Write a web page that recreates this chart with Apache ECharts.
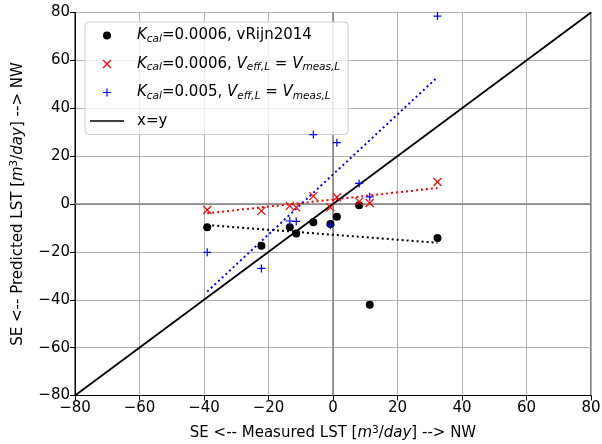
<!DOCTYPE html>
<html><head><meta charset="utf-8">
<script src="https://cdn.jsdelivr.net/npm/echarts@6/dist/echarts.min.js"></script>
<style>html,body{margin:0;padding:0;background:#fff}#c{width:602px;height:444px}</style>
</head><body><div id="c"></div>
<script>
// ---- data ----
const measured      = [-39.0, -22.2, -13.4, -11.4, -6.1, -0.8, 1.2, 8.1, 11.4, 32.4];
const predVRijn     = [-9.7, -17.4, -9.7, -12.3, -7.6, -8.4, -5.3, -0.5, -42.1, -14.2];
const predVeffK0006 = [-2.5, -2.9, -0.8, -1.4, 3.3, -1.4, 2.8, 1.0, 0.4, 9.2];
const predVeffK005  = [-20.2, -26.9, -7.1, -7.3, 29.0, -8.8, 25.6, 8.6, 3.0, 78.5];
const fitX          = [-39.0, 32.4];
const fitVRijn      = [-8.8, -16.2];
const fitVeffK0006  = [-3.9, 6.7];
const fitVeffK005   = [-36.6, 53.0];
const identityX     = [-80, 80];
const axisMin = -80, axisMax = 80, axisStep = 20;

const names = ['Kcal=0.0006, vRijn2014', 'Kcal=0.0006, Veff,L = Vmeas,L', 'Kcal=0.005, Veff,L = Vmeas,L', 'x=y'];
const legendRich = {
  1: '{gap| }{i|K}{sub|cal}{n|=0.0006, vRijn2014}',
  2: '{gap| }{i|K}{sub|cal}{n|=0.0006, }{i|V}{sub|eff,L}{n| = }{i|V}{sub|meas,L}',
  3: '{gap| }{i|K}{sub|cal}{n|=0.005, }{i|V}{sub|eff,L}{n| = }{i|V}{sub|meas,L}',
  4: '{gap| }{n|x=y}'
};
const zip = (a, b) => a.map((v, i) => [v, b[i]]);
const FF = 'DejaVu Sans';
const FS = 15;
const base = {fontFamily: FF, fontSize: FS, color: '#000'};
const rich = {
  gap: Object.assign({}, base, {width: 8, lineHeight: 18}),
  n: Object.assign({}, base, {lineHeight: 18}),
  i: Object.assign({}, base, {fontStyle: 'italic', lineHeight: 18}),
  sub: Object.assign({}, base, {fontSize: 10.5, fontStyle: 'italic', lineHeight: 9, verticalAlign: 'bottom'}),
  sup: Object.assign({}, base, {fontSize: 10.5, lineHeight: 9, verticalAlign: 'top'})
};
const xPath = 'path://M0,0L10,10M10,0L0,10';
const plusPath = 'path://M5,0L5,10M0,5L10,5';
const linePath = 'path://M0,0L0.01,0M0,3.25L34,3.25L34,4.75L0,4.75ZM0,8L0.01,8';

const chart = echarts.init(document.getElementById('c'), null, {renderer: 'canvas'});
chart.setOption({
  animation: false,
  grid: {left: 75, right: 11, top: 12.5, bottom: 48.5, outerBoundsMode: 'none', containLabel: false,
         show: true, borderColor: '#000', borderWidth: 1, backgroundColor: 'transparent'},
  xAxis: {
    type: 'value', min: axisMin, max: axisMax, interval: axisStep,
    axisLine: {onZero: false, lineStyle: {color: '#000'}},
    axisTick: {show: true, length: 5, lineStyle: {color: '#000'}},
    axisLabel: {fontFamily: FF, fontSize: FS, color: '#000', margin: 5, formatter: v => String(v).replace('-', '\u2212')},
    splitLine: {show: true, lineStyle: {color: '#b0b0b0', width: 1}},
    name: 'SE <-- Measured LST [{i|m}{sup|3}{n|/}{i|day}{n|] --> NW}',
    nameLocation: 'middle', nameGap: 29,
    nameTextStyle: {fontFamily: FF, fontSize: FS, color: '#000', rich: rich}
  },
  yAxis: {
    type: 'value', min: axisMin, max: axisMax, interval: axisStep,
    axisLine: {onZero: false, lineStyle: {color: '#000'}},
    axisTick: {show: true, length: 5, lineStyle: {color: '#000'}},
    axisLabel: {fontFamily: FF, fontSize: FS, color: '#000', margin: 5, formatter: v => String(v).replace('-', '\u2212')},
    splitLine: {show: true, lineStyle: {color: '#b0b0b0', width: 1}},
    name: 'SE <-- Predicted LST [{i|m}{sup|3}{n|/}{i|day}{n|] --> NW}',
    nameLocation: 'middle', nameGap: 48, nameRotate: 90,
    nameTextStyle: {fontFamily: FF, fontSize: FS, color: '#000', rich: rich}
  },
  legend: {
    orient: 'vertical', left: 85, top: 22,
    padding: [6, 8, 6, 5], itemGap: 12, itemWidth: 34, itemHeight: 8,
    backgroundColor: 'rgba(255,255,255,0.8)', borderColor: '#cccccc', borderWidth: 1, borderRadius: 4,
    data: [
      {name: names[0], icon: 'circle'},
      {name: names[1], icon: xPath, itemStyle: {color: 'none', borderColor: '#ff0000', borderWidth: 1.2}},
      {name: names[2], icon: plusPath, itemStyle: {color: 'none', borderColor: '#0000ff', borderWidth: 1.2}},
      {name: names[3], icon: linePath, itemStyle: {color: '#000', borderWidth: 0}}
    ],
    formatter: name => legendRich[names.indexOf(name) + 1],
    textStyle: {fontFamily: FF, fontSize: FS, color: '#000', rich: rich}
  },
  series: [
    {type: 'line', silent: true, symbol: 'none', data: [[axisMin, 0], [axisMax, 0]], lineStyle: {color: '#808080', width: 1.5}, z: 1},
    {type: 'line', silent: true, symbol: 'none', data: [[0, axisMin], [0, axisMax]], lineStyle: {color: '#808080', width: 1.5}, z: 1},
    {type: 'line', silent: true, symbol: 'none', data: zip(fitX, fitVRijn), lineStyle: {color: '#000', width: 2, type: [2, 3]}, z: 2},
    {type: 'line', silent: true, symbol: 'none', data: zip(fitX, fitVeffK0006), lineStyle: {color: '#ff0000', width: 2, type: [2, 3]}, z: 2},
    {type: 'line', silent: true, symbol: 'none', data: zip(fitX, fitVeffK005), lineStyle: {color: '#0000ff', width: 2, type: [2, 3]}, z: 2},
    {name: names[0], type: 'scatter', data: zip(measured, predVRijn), symbol: 'circle', symbolSize: 8, itemStyle: {color: '#000', opacity: 1}, z: 5},
    {name: names[1], type: 'scatter', data: zip(measured, predVeffK0006), symbol: xPath, symbolSize: 8, symbolKeepAspect: true, itemStyle: {color: 'none', borderColor: '#ff0000', borderWidth: 1.2, opacity: 1}, z: 5},
    {name: names[2], type: 'scatter', data: zip(measured, predVeffK005), symbol: plusPath, symbolSize: 8, symbolKeepAspect: true, itemStyle: {color: 'none', borderColor: '#0000ff', borderWidth: 1.2, opacity: 1}, z: 5},
    {name: names[3], type: 'line', symbol: 'none', data: zip(identityX, identityX), lineStyle: {color: '#000', width: 1.8}, itemStyle: {color: '#000'}, z: 4}
  ]
});
</script>
</body></html>
